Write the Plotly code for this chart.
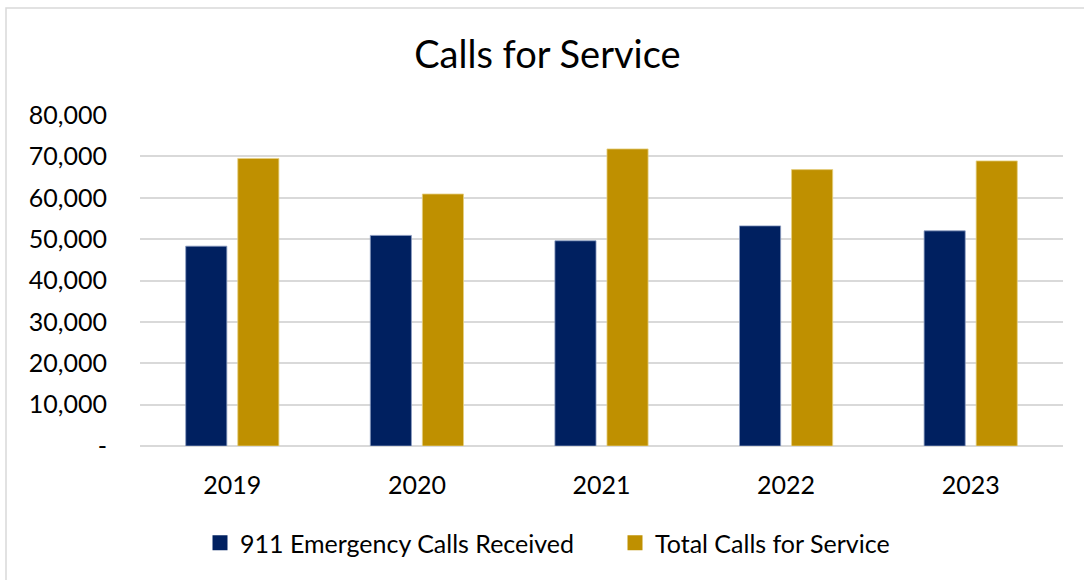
import plotly.graph_objects as go

years = ["2019", "2020", "2021", "2022", "2023"]
emergency_911 = [48300, 50900, 49600, 53200, 52000]
total_calls = [69500, 60900, 71800, 66800, 68900]
y_ticks = [0, 10000, 20000, 30000, 40000, 50000, 60000, 70000, 80000]
y_tick_labels = ["-", "10,000", "20,000", "30,000", "40,000", "50,000", "60,000", "70,000", "80,000"]
series_names = ["911 Emergency Calls Received", "Total Calls for Service"]
series_colors = ["#002060", "#BF9000"]

W, H = 1084, 580
L, R, T, B = 140, 21, 115, 134
FONT = "Lato"

fig = go.Figure()
fig.add_trace(go.Bar(x=years, y=emergency_911, name=series_names[0], showlegend=False,
                     marker=dict(color=series_colors[0], line=dict(color="#8a9cc0", width=0.8))))
fig.add_trace(go.Bar(x=years, y=total_calls, name=series_names[1], showlegend=False,
                     marker=dict(color=series_colors[1], line=dict(color="#e6cf80", width=0.8))))
for name, color, lg in zip(series_names, series_colors, ["legend", "legend2"]):
    fig.add_trace(go.Scatter(x=[None], y=[None], mode="markers", name=name, legend=lg,
                             marker=dict(symbol="square", size=15, color=color)))

pw = W - L - R
ph = H - T - B
def px(x):
    return (x - L) / pw
def py(y):
    return (H - B - y) / ph

leg_common = dict(orientation="h", xanchor="left", y=py(543), yanchor="middle",
                  font=dict(family=FONT, size=25, color="#000000"), itemwidth=30,
                  bgcolor="rgba(0,0,0,0)")

fig.update_layout(
    width=W, height=H,
    margin=dict(l=L, r=R, t=T, b=B),
    paper_bgcolor="white", plot_bgcolor="white",
    font=dict(family=FONT, color="#000000", size=25),
    title=dict(text="Calls for Service", x=0.505, xanchor="center", y=1 - 55 / H, yanchor="middle",
               font=dict(family=FONT, size=38, color="#000000")),
    barmode="group", bargap=0.436, bargroupgap=0.21,
    showlegend=True,
    legend=dict(x=px(214 - 14), **leg_common),
    legend2=dict(x=px(629 - 14), **leg_common),
    xaxis=dict(showgrid=False, showline=False, zeroline=False, ticks="",
               tickfont=dict(family=FONT, size=25), ticklabelstandoff=22),
    yaxis=dict(range=[0, 80000], tickvals=y_ticks, ticktext=y_tick_labels,
               showgrid=True, gridcolor="#d9d9d9", gridwidth=1.5, zeroline=True,
               zerolinecolor="#d9d9d9", zerolinewidth=1.5, showline=False, ticks="",
               tickfont=dict(family=FONT, size=25), ticklabelstandoff=32),
    shapes=[dict(type="rect", xref="paper", yref="paper",
                 x0=px(6), x1=px(1095), y0=py(595), y1=py(8),
                 line=dict(color="#d9d9d9", width=1.5), fillcolor="rgba(0,0,0,0)", layer="below")],
)

fig.write_html("out.html", config={"displayModeBar": False},
               post_script="document.body.style.margin='0';")
